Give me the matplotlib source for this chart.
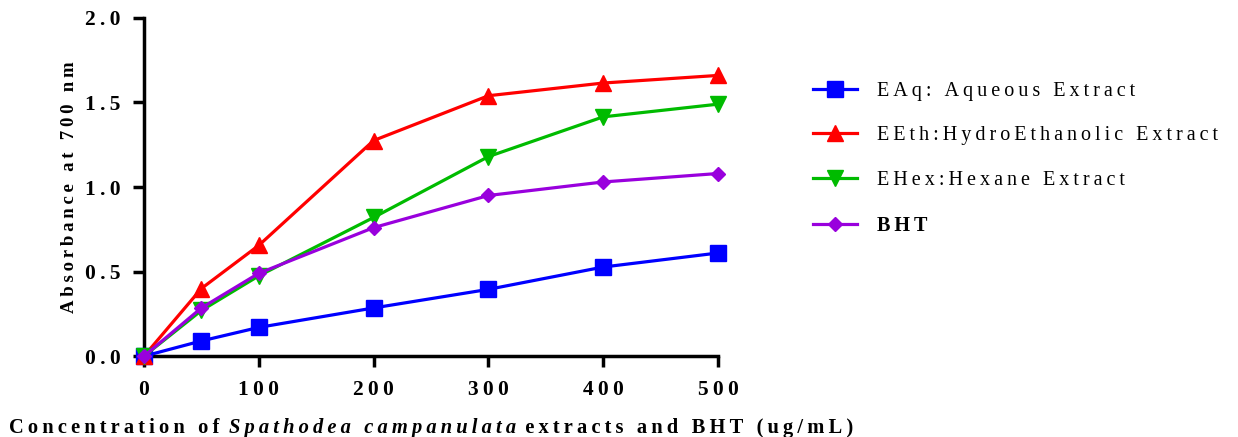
import matplotlib
matplotlib.use("Agg")
import matplotlib.pyplot as plt
from matplotlib.lines import Line2D

conc = [0, 50, 100, 200, 300, 400, 500]
eaq = [0.0, 0.09, 0.17, 0.285, 0.395, 0.527, 0.61]
eeth = [0.0, 0.40, 0.655, 1.275, 1.54, 1.615, 1.66]
ehex = [0.0, 0.27, 0.475, 0.82, 1.18, 1.415, 1.49]
bht = [0.0, 0.285, 0.49, 0.76, 0.95, 1.03, 1.08]
labels = ["EAq: Aqueous Extract", "EEth:HydroEthanolic Extract", "EHex:Hexane Extract", "BHT"]
xticks = [0, 100, 200, 300, 400, 500]
yticks = [0.0, 0.5, 1.0, 1.5, 2.0]

SERIF = ["Liberation Serif", "DejaVu Serif"]
SP = "\u2009"

def spaced(s):
    return SP.join(list(s))

fig = plt.figure(figsize=(12.38, 4.37), dpi=100)
ax = fig.add_axes([0.1163, 0.185, 0.4637, 0.774])

series = [
    (eaq, "#0000ff", "s"),
    (eeth, "#ff0000", "^"),
    (ehex, "#00bb00", "v"),
    (bht, "#9900dd", "D"),
]
for ys, c, m in series:
    ax.plot(conc, ys, color=c, marker=m, lw=2.3, ms=11 if m != "D" else 7.5, clip_on=False, zorder=3)

ax.set_xlim(0, 500)
ax.set_ylim(0, 2.0)
ax.set_xticks(xticks)
ax.set_yticks(yticks)
ax.set_xticklabels([spaced(str(t)) for t in xticks], family=SERIF, fontweight="bold", fontsize=15.5)
ax.set_yticklabels([spaced(f"{t:.1f}") for t in yticks], family=SERIF, fontweight="bold", fontsize=15.5)
for s in ["top", "right"]:
    ax.spines[s].set_visible(False)
for s in ["left", "bottom"]:
    ax.spines[s].set_linewidth(2.5)
ax.tick_params(width=2.5, length=8, direction="out", pad=9)

ax.set_ylabel(spaced("Absorbance at 700 nm"), family=SERIF, fontweight="bold", fontsize=13.5, labelpad=5)

# x label built from pieces (normal / italic / normal)
fig.canvas.draw()
renderer = fig.canvas.get_renderer()
pieces = [("Concentration of ", "normal"), ("Spathodea campanulata", "italic"), (" extracts and BHT (ug/mL)", "normal")]
texts = []
x0 = 0
for s, st in pieces:
    t = fig.text(x0, -0.003, spaced(s), family=SERIF, fontweight="bold", style=st, fontsize=14.8, ha="left", va="bottom")
    texts.append(t)
    bb = t.get_window_extent(renderer)
    x0 += bb.width / fig.bbox.width
total = x0
start = (0.1163 + 0.4637 / 2) - total / 2
xx = start
for t in texts:
    t.set_x(xx)
    xx += t.get_window_extent(renderer).width / fig.bbox.width

handles = [Line2D([], [], color=c, marker=m, lw=2.3, ms=11 if m != "D" else 7.5) for _, c, m in series]
leg = fig.legend(handles, [spaced(l) for l in labels], loc="upper left", bbox_to_anchor=(0.642, 0.855),
                 frameon=False, handlelength=2.2, labelspacing=1.28, handletextpad=1.0,
                 prop={"family": SERIF, "size": 14.5})
for i, t in enumerate(leg.get_texts()):
    if i == 3:
        t.set_fontweight("bold")

fig.savefig("out.png", dpi=100)
